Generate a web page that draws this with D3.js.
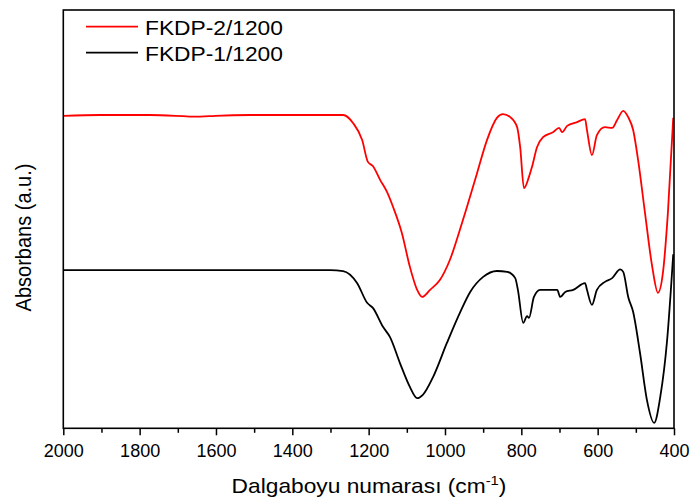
<!DOCTYPE html>
<html><head><meta charset="utf-8">
<script src="https://cdn.jsdelivr.net/npm/d3@7"></script>
<style>html,body{margin:0;padding:0;background:#fff;}svg{display:block;font-family:"Liberation Sans",Arial,sans-serif;}</style>
</head><body>
<script>
// Wavenumbers (cm-1) and absorbance (a.u., arbitrary 0-100 scale)
const redWn = [2000,1904,1773,1641,1602,1511,1380,1301,1267,1241,1217,1202,1189,1170,1152,1136,1113,1092,1073,1060,1039,1013,987,953,916,890,864,848,829,811,803,793,780,772,759,743,717,701,693,680,654,633,628,615,602,581,562,549,533,520,507,494,476,457,442,429,416,402];
const redAbs = [74.7,74.9,74.9,74.5,74.7,74.9,74.9,74.9,74.9,73.0,68.9,63.7,62.7,59.4,56.5,52.9,46.7,38.6,33.1,31.4,33.1,35.5,40.3,49.8,61.0,68.9,74.2,75.1,74.4,72.0,67.2,57.4,60.1,62.5,67.2,69.6,70.8,71.8,70.8,72.3,73.2,73.9,71.3,65.3,70.1,72.0,71.8,73.7,75.9,74.4,71.3,64.1,51.5,38.6,32.4,37.2,51.5,74.2];
const blackWn = [2000,1773,1511,1301,1267,1230,1204,1189,1162,1144,1118,1092,1073,1058,1031,995,961,934,900,864,837,816,809,795,785,780,767,751,706,698,685,664,633,628,615,602,581,562,541,533,520,507,489,471,452,436,418,402];
const blackAbs = [37.8,37.8,37.8,37.8,37.6,34.7,30.0,28.8,24.2,21.8,15.6,9.9,7.2,8.0,12.3,20.4,27.6,32.6,36.2,37.6,37.4,35.9,33.1,25.2,26.8,26.4,31.4,33.1,33.1,31.4,32.6,33.1,34.7,33.1,29.5,33.1,35.0,35.9,38.0,37.4,31.4,27.8,18.0,6.8,1.3,7.5,21.1,41.6];
const seriesNames = ["FKDP-2/1200","FKDP-1/1200"];
const seriesColors = ["#ff0000","#000000"];
const xMajorTicks = [2000,1800,1600,1400,1200,1000,800,600,400];
const xMinorTicks = [1900,1700,1500,1300,1100,900,700,500];
const xTitle = "Dalgaboyu numarası (cm";
const xTitleSup = "-1";
const yTitle = "Absorbans (a.u.)";

const W = 690, H = 503;
const m = {left:63.3, right:690-674, top:10, bottom:503-428.3};
const svg = d3.select("body").append("svg").attr("width",W).attr("height",H);
const x = d3.scaleLinear().domain([2000,400]).range([m.left, W-m.right]);
const y = d3.scaleLinear().domain([0,100]).range([H-m.bottom, m.top]);

const line = d3.line().x(d=>x(d[0])).y(d=>y(d[1])).curve(d3.curveMonotoneX);
const series = [
  {wn:redWn, ab:redAbs, color:seriesColors[0]},
  {wn:blackWn, ab:blackAbs, color:seriesColors[1]}
];
series.forEach(s=>{
  svg.append("path").datum(s.wn.map((w,i)=>[w,s.ab[i]]))
    .attr("d",line).attr("fill","none").attr("stroke",s.color)
    .attr("stroke-width",1.8).attr("stroke-linejoin","round");
});

// frame
svg.append("rect").attr("x",m.left).attr("y",m.top)
  .attr("width",W-m.right-m.left).attr("height",H-m.bottom-m.top)
  .attr("fill","none").attr("stroke","#000").attr("stroke-width",1.6);

// x axis
const gx = svg.append("g").attr("transform",`translate(0,${H-m.bottom})`)
  .call(d3.axisBottom(x).tickValues(xMajorTicks).tickSize(7).tickPadding(5).tickFormat(d3.format("d")));
gx.select(".domain").remove();
gx.selectAll(".tick line").attr("stroke-width",1.5);
gx.selectAll(".tick text").attr("font-size",18).attr("font-family","Liberation Sans, Arial, sans-serif").attr("fill","#000").attr("dy",null).attr("y",28.4);
const gm = svg.append("g").attr("transform",`translate(0,${H-m.bottom})`)
  .call(d3.axisBottom(x).tickValues(xMinorTicks).tickSize(4.5).tickFormat(""));
gm.select(".domain").remove();
gm.selectAll(".tick line").attr("stroke-width",1.5);

// x title
const xt = svg.append("text").attr("font-size",20).attr("fill","#000").attr("text-anchor","middle");
xt.append("tspan").text(xTitle);
xt.append("tspan").text(xTitleSup).attr("font-size",13).attr("dy",-8);
xt.append("tspan").text(")").attr("dy",8);
const xtw = xt.node().getBBox().width;
xt.attr("transform",`translate(369,493) scale(${275/xtw},1)`);

// y title
const yt = svg.append("text").attr("font-size",20).attr("fill","#000").attr("text-anchor","middle").text(yTitle);
yt.attr("transform",`translate(30.5,237.5) scale(1.1,1) rotate(-90)`);

// legend
const legY = [26.7,52.7];
seriesNames.forEach((n,i)=>{
  svg.append("line").attr("x1",86).attr("x2",138).attr("y1",legY[i]).attr("y2",legY[i])
    .attr("stroke",seriesColors[i]).attr("stroke-width",1.8);
  const t = svg.append("text").attr("font-size",21).attr("fill","#000").text(n);
  const w = t.node().getBBox().width;
  t.attr("transform",`translate(145,${legY[i]+8}) scale(${138/w},1)`);
});
</script>
</body></html>
